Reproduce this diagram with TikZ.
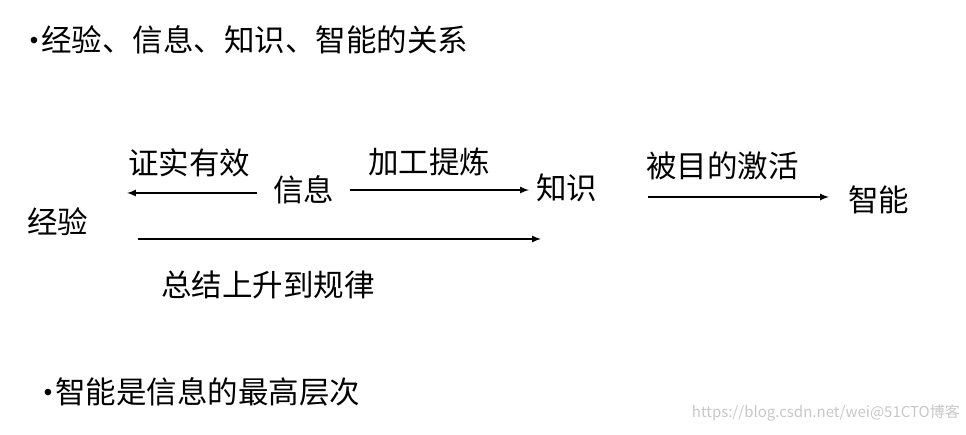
\documentclass[tikz,border=0pt]{standalone}
\usepackage{fontspec}
\setmainfont{Noto Sans CJK SC}
\newfontfamily\latinfont{Liberation Sans}
\usepackage{tikz}
\usetikzlibrary{arrows,positioning}
\tikzstyle{word}=[inner sep=0pt,anchor=west,font=\fontsize{30.5}{34}\selectfont]
\tikzstyle{dot}=[inner sep=0pt,font=\latinfont\fontsize{24}{26}\selectfont]
\tikzstyle{link}=[-latex,line width=2pt]
\begin{document}
\begin{tikzpicture}[x=1pt,y=-1pt]
\useasboundingbox (0,0) rectangle (966,434);
% titles
\node [dot] (dot1) at (34,43) {•};
\node [word] (head) at (41,40) {经验、信息、知识、智能的关系};
\node [dot] (dot2) at (48,395) {•};
\node [word] (tail) at (55,392) {智能是信息的最高层次};
% concepts
\node [word] (exp) at (27,222) {经验};
\node [word] (info) at (273,190) {信息};
\node [word] (know) at (536,188) {知识};
\node [word] (intel) at (848,200) {智能};
\coordinate (a1) at (257,193);
\coordinate (a2) at (127,193);
\coordinate (b1) at (350,190);
\coordinate (b2) at (529,190);
\coordinate (c1) at (138,239);
\coordinate (c2) at (541,239);
\coordinate (d1) at (648,197);
\coordinate (d2) at (829,197);
% connectors
\draw [link] (a1) -- (a2);
\draw [link] (b1) -- (b2);
\draw [link] (c1) -- (c2);
\draw [link] (d1) -- (d2);
% labels
\node [word] (check) at (128,163) {证实有效};
\node [word] (refine) at (368,162) {加工提炼};
\node [word] (active) at (646,166) {被目的激活};
\node [word] (rule) at (161,285) {总结上升到规律};
\node [inner sep=0pt,anchor=east,text=black!22,font=\fontsize{15}{17}\selectfont] (mark) at (960,413) {https://blog.csdn.net/wei@51CTO博客};
\end{tikzpicture}
\end{document}
